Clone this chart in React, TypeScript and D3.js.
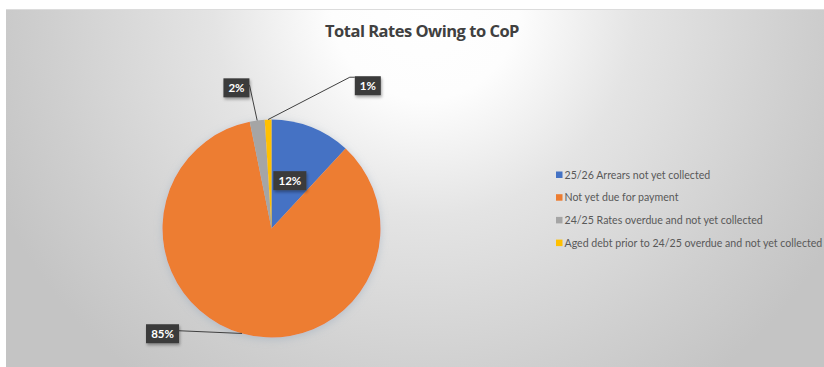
import React from "react";
import * as d3 from "d3";

const categories = [
  "25/26 Arrears not yet collected",
  "Not yet due for payment",
  "24/25 Rates overdue and not yet collected",
  "Aged debt prior to 24/25 overdue and not yet collected",
];
const values = [11.9, 84.9, 2.2, 1.0];
const labels = ["12%", "85%", "2%", "1%"];
const colors = ["#4472C4", "#ED7D31", "#A5A5A5", "#FFC000"];
const title = "Total Rates Owing to CoP";

// label placement: [angle in degrees (clockwise from top), radius factor, leader?]
const labelPlacement: [number, number, boolean][] = [
  [21, 0.47, false],
  [226, 1.39, true],
  [346, 1.33, true],
  [34, 1.58, true],
];

const W = 824;
const H = 367;
const cx = 271.5;
const cy = 228.5;
const R = 109;

export default function App() {
  const pie = d3.pie<number>().sort(null).value((d) => d);
  const arcs = pie(values);
  const arc = d3.arc<d3.PieArcDatum<number>>().innerRadius(0).outerRadius(R);
  const rad = (deg: number) => (deg * Math.PI) / 180;
  const polar = (a: number, r: number) => [Math.sin(a) * r, -Math.cos(a) * r];

  return (
    <svg
      width={W}
      height={H}
      style={{ position: "absolute", left: 0, top: 0, fontFamily: "Lato, 'Open Sans', sans-serif" }}
    >
      <defs>
        <radialGradient id="bg" gradientUnits="userSpaceOnUse" cx={425} cy={5} r={470}>
          <stop offset="0" stopColor="#ffffff" />
          <stop offset="0.2" stopColor="#fdfdfd" />
          <stop offset="0.45" stopColor="#e4e4e4" />
          <stop offset="0.8" stopColor="#cfcfcf" />
          <stop offset="1" stopColor="#c4c4c4" />
        </radialGradient>
        <filter id="shadow" x="-30%" y="-30%" width="160%" height="160%">
          <feGaussianBlur in="SourceAlpha" stdDeviation="4" />
          <feOffset dx="0" dy="2" result="b" />
          <feFlood floodColor="#8fa3b8" floodOpacity="0.45" />
          <feComposite in2="b" operator="in" />
          <feMerge>
            <feMergeNode />
            <feMergeNode in="SourceGraphic" />
          </feMerge>
        </filter>
        <filter id="boxshadow" x="-30%" y="-30%" width="160%" height="160%">
          <feGaussianBlur in="SourceAlpha" stdDeviation="1.5" />
          <feOffset dx="1" dy="1.5" result="b" />
          <feFlood floodColor="#000" floodOpacity="0.35" />
          <feComposite in2="b" operator="in" />
          <feMerge>
            <feMergeNode />
            <feMergeNode in="SourceGraphic" />
          </feMerge>
        </filter>
      </defs>
      <rect x={0} y={0} width={W} height={H} fill="#ffffff" />
      <rect x={6} y={9} width={W - 6} height={H - 9} fill="url(#bg)" />
      <line x1={6} x2={W} y1={9.5} y2={9.5} stroke="#dcdcdc" strokeWidth={1} />

      <text
        x={422}
        y={37}
        textAnchor="middle"
        fontSize={16.5}
        fontWeight={700}
        fill="#404040"
        fontFamily="'Open Sans', Lato, sans-serif"
        letterSpacing={-0.5}
      >
        {title}
      </text>

      <g transform={`translate(${cx},${cy})`} filter="url(#shadow)">
        {arcs.map((a, i) => (
          <path key={i} d={arc(a) || ""} fill={colors[i]} />
        ))}
      </g>

      <g transform={`translate(${cx},${cy})`}>
        {arcs.map((a, i) => {
          const [ang, rf, leader] = labelPlacement[i];
          const [lx, ly] = polar(rad(ang), R * rf);
          const bw = labels[i].length > 2 ? 33 : 26;
          const bh = 19;
          const mid = (a.startAngle + a.endAngle) / 2;
          const [ex, ey] = polar(mid, R);
          let pts: [number, number][] = [];
          if (leader) {
            const left = lx - bw / 2;
            const right = lx + bw / 2;
            const top = ly - bh / 2;
            const bottom = ly + bh / 2;
            if (ex > right) {
              pts = [[ex, ey], [right, ly - 3]];
            } else if (ex < left) {
              pts = [[ex, ey], [left - 5, top + 1], [left, top + 1]];
            } else {
              pts = [[ex, ey], [right - 1, bottom]];
            }
          }
          return (
            <g key={i}>
              {leader && (
                <polyline
                  points={pts.map((p) => p.join(",")).join(" ")}
                  fill="none"
                  stroke="#404040"
                  strokeWidth={1}
                />
              )}
              <rect
                x={lx - bw / 2}
                y={ly - bh / 2}
                width={bw}
                height={bh}
                fill="#3a3a3a"
                filter="url(#boxshadow)"
              />
              <text
                x={lx}
                y={ly + 4}
                textAnchor="middle"
                fontSize={11.5}
                fontWeight={700}
                fill="#ffffff"
              >
                {labels[i]}
              </text>
            </g>
          );
        })}
      </g>

      <g transform="translate(556,175)">
        {categories.map((c, i) => (
          <g key={i} transform={`translate(0,${i * 22.7})`}>
            <rect x={0} y={-3.5} width={6.5} height={6.5} fill={colors[i]} />
            <text x={8.5} y={3.5} fontSize={10.6} fill="#595959">
              {c}
            </text>
          </g>
        ))}
      </g>
    </svg>
  );
}
